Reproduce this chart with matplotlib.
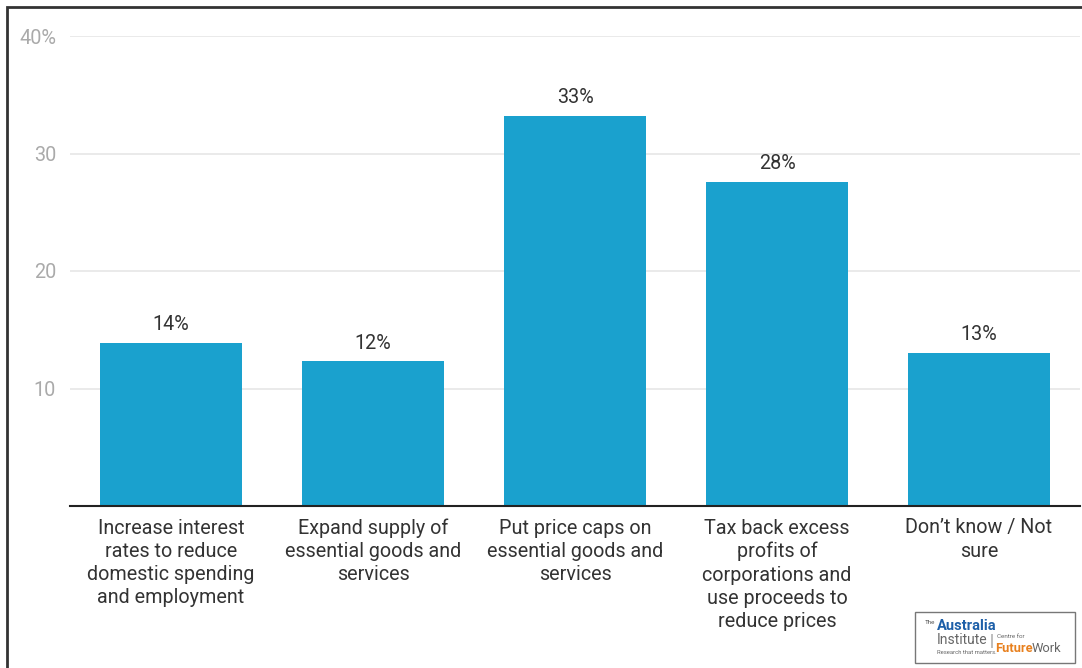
import matplotlib
matplotlib.use("Agg")
import matplotlib.pyplot as plt
from matplotlib.patches import Rectangle

plt.rcParams['font.family'] = ['Roboto', 'DejaVu Sans']

categories = [
    "Increase interest\nrates to reduce\ndomestic spending\nand employment",
    "Expand supply of\nessential goods and\nservices",
    "Put price caps on\nessential goods and\nservices",
    "Tax back excess\nprofits of\ncorporations and\nuse proceeds to\nreduce prices",
    "Don\u2019t know / Not\nsure",
]
values = [13.9, 12.3, 33.2, 27.6, 13.0]
value_labels = ["14%", "12%", "33%", "28%", "13%"]
yticks = [10, 20, 30, 40]
ytick_labels = ["10", "20", "30", "40%"]

W, H = 1082, 668
fig = plt.figure(figsize=(W / 100, H / 100), dpi=100)
fig.patch.set_facecolor("white")

ax = fig.add_axes([70 / W, (H - 506) / H, (1080 - 70) / W, (506 - 36) / H])
x = list(range(len(categories)))
ax.bar(x, values, width=0.70, color="#1aa1ce", zorder=2)
for xi, v, lab in zip(x, values, value_labels):
    ax.text(xi, v + 0.75, lab, ha="center", va="bottom", fontsize=14.2, color="#333333")

ax.set_xlim(-0.5, 4.5)
ax.set_ylim(0, 40)
ax.set_yticks(yticks)
ax.set_yticklabels(ytick_labels)
ax.yaxis.grid(True, color="#e6e6e6", linewidth=1.2, zorder=0)
ax.set_axisbelow(True)
ax.tick_params(axis="y", length=0, pad=10, labelsize=14.3, labelcolor="#aaaaaa")
ax.tick_params(axis="x", length=0, pad=9)
for lab in ax.get_yticklabels():
    lab.set_horizontalalignment("right")
ax.set_xticks(x)
ax.set_xticklabels(categories, fontsize=14.2, color="#333333", linespacing=1.28, va="top")
for s in ["top", "right", "left"]:
    ax.spines[s].set_visible(False)
ax.spines["bottom"].set_color("#222222")
ax.spines["bottom"].set_linewidth(1.5)

# outer frame
fig.add_artist(Rectangle((7 / W, -0.1), 1.2, (H - 7) / H + 0.1, transform=fig.transFigure,
                         fill=False, edgecolor="#333333", linewidth=2, clip_on=False))

# logo box
lx0, ly0, lx1, ly1 = 915, 612, 1075, 663
fig.add_artist(Rectangle((lx0 / W, (H - ly1) / H), (lx1 - lx0) / W, (ly1 - ly0) / H,
                         transform=fig.transFigure, facecolor="white",
                         edgecolor="#777777", linewidth=1))
def ft(px, py, s, **kw):
    fig.text(px / W, (H - py) / H, s, transform=fig.transFigure, **kw)
ft(925, 622, "The", fontsize=4.5, color="#555555", va="center")
ft(937, 626, "Australia", fontsize=10.5, color="#1d5fa8", va="center", fontweight="bold")
ft(937, 640, "Institute", fontsize=10, color="#666666", va="center")
ft(937, 653, "Research that matters.", fontsize=4.2, color="#666666", va="center")
ft(990, 642, "|", fontsize=12, color="#999999", va="center")
ft(997, 636, "Centre for", fontsize=4.5, color="#666666", va="center")
ft(995, 648, "Future", fontsize=9.3, color="#e8801e", va="center", fontweight="bold")
ft(1032, 648, "Work", fontsize=9.3, color="#666666", va="center")

fig.savefig("out.png", dpi=100, facecolor="white")
